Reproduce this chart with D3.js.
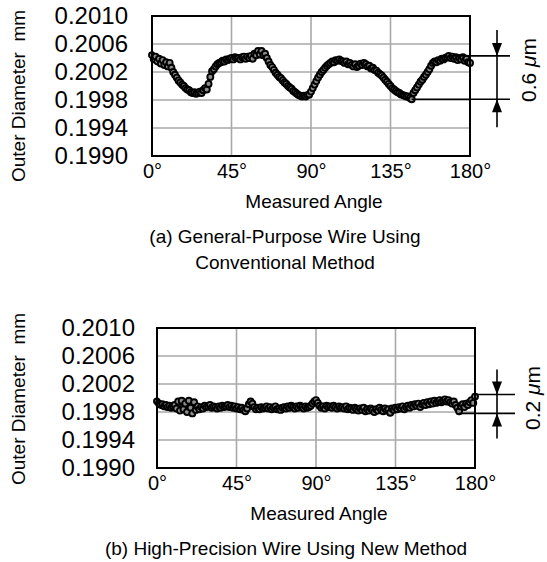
<!DOCTYPE html>
<html>
<head>
<meta charset="utf-8">
<script src="https://cdn.jsdelivr.net/npm/d3@7"></script>
<style>
  body { margin: 0; background: #fff; }
  svg { display: block; font-family: "Liberation Sans", Arial, Helvetica, sans-serif; }
  text { fill: #000; }
</style>
</head>
<body>
<svg id="chart" width="547" height="562"></svg>
<script>
// Measured angles, 0..180 deg in 1 deg steps
var angles = d3.range(0, 181, 1);

// Outer diameter (mm), general-purpose wire, conventional method
var diamConventional = [
  0.20044, 0.20038, 0.20042, 0.20035, 0.20039, 0.20032, 0.20037, 0.20030, 0.20034, 0.20028,
  0.20033, 0.20026, 0.20020, 0.20016, 0.20012, 0.20008, 0.20005, 0.20002, 0.20000, 0.19997,
  0.19995, 0.19994, 0.19991, 0.19990, 0.19991, 0.19989, 0.19990, 0.19992, 0.19990, 0.19994,
  0.19997, 0.19995, 0.20003, 0.20013, 0.20021, 0.20024, 0.20028, 0.20031, 0.20033, 0.20034,
  0.20036, 0.20035, 0.20038, 0.20037, 0.20039, 0.20040, 0.20038, 0.20041, 0.20040, 0.20040,
  0.20038, 0.20041, 0.20042, 0.20039, 0.20042, 0.20040, 0.20043, 0.20039, 0.20046, 0.20044,
  0.20050, 0.20045, 0.20050, 0.20044, 0.20046, 0.20040, 0.20035, 0.20030, 0.20027, 0.20023,
  0.20019, 0.20016, 0.20013, 0.20011, 0.20008, 0.20005, 0.20003, 0.20000, 0.19998, 0.19996,
  0.19993, 0.19991, 0.19989, 0.19987, 0.19986, 0.19985, 0.19986, 0.19985, 0.19987, 0.19988,
  0.19992, 0.19997, 0.20002, 0.20007, 0.20012, 0.20016, 0.20020, 0.20023, 0.20026, 0.20029,
  0.20031, 0.20033, 0.20035, 0.20034, 0.20037, 0.20036, 0.20038, 0.20036, 0.20035, 0.20033,
  0.20035, 0.20031, 0.20033, 0.20030, 0.20028, 0.20031, 0.20027, 0.20029, 0.20032, 0.20030,
  0.20033, 0.20031, 0.20028, 0.20029, 0.20025, 0.20026, 0.20023, 0.20022, 0.20019, 0.20017,
  0.20015, 0.20012, 0.20009, 0.20006, 0.20003, 0.20000, 0.19997, 0.19995, 0.19993, 0.19991,
  0.19990, 0.19988, 0.19987, 0.19986, 0.19985, 0.19985, 0.19983, 0.19981, 0.19990, 0.19994,
  0.19998, 0.20002, 0.20006, 0.20009, 0.20013, 0.20016, 0.20020, 0.20024, 0.20029, 0.20033,
  0.20035, 0.20034, 0.20037, 0.20036, 0.20039, 0.20038, 0.20040, 0.20041, 0.20043, 0.20040,
  0.20042, 0.20039, 0.20041, 0.20037, 0.20040, 0.20038, 0.20041, 0.20036, 0.20039, 0.20034,
  0.20033
];

// Outer diameter (mm), high-precision wire, new method
var diamNew = [
  0.19995, 0.19992, 0.19990, 0.19991, 0.19988, 0.19990, 0.19987, 0.19989, 0.19986, 0.19988,
  0.19990, 0.19985, 0.19995, 0.19982, 0.19996, 0.19984, 0.19992, 0.19980, 0.19996, 0.19986,
  0.19978, 0.19994, 0.19983, 0.19988, 0.19984, 0.19987, 0.19985, 0.19989, 0.19987, 0.19988,
  0.19990, 0.19986, 0.19988, 0.19987, 0.19985, 0.19988, 0.19986, 0.19989, 0.19987, 0.19988,
  0.19990, 0.19987, 0.19989, 0.19986, 0.19988, 0.19985, 0.19987, 0.19984, 0.19986, 0.19983,
  0.19981, 0.19985, 0.19991, 0.19995, 0.19992, 0.19987, 0.19984, 0.19986, 0.19984, 0.19987,
  0.19985, 0.19986, 0.19988, 0.19985, 0.19987, 0.19984, 0.19986, 0.19988, 0.19984, 0.19985,
  0.19983, 0.19986, 0.19987, 0.19985, 0.19988, 0.19986, 0.19989, 0.19987, 0.19985, 0.19988,
  0.19986, 0.19989, 0.19987, 0.19985, 0.19988, 0.19986, 0.19987, 0.19989, 0.19992, 0.19995,
  0.19997, 0.19993, 0.19989, 0.19986, 0.19988, 0.19985, 0.19989, 0.19987, 0.19988, 0.19986,
  0.19989, 0.19987, 0.19985, 0.19988, 0.19986, 0.19987, 0.19985, 0.19988, 0.19984, 0.19986,
  0.19985, 0.19983, 0.19986, 0.19984, 0.19982, 0.19985, 0.19983, 0.19986, 0.19981, 0.19984,
  0.19982, 0.19985, 0.19983, 0.19980, 0.19984, 0.19982, 0.19986, 0.19983, 0.19981, 0.19985,
  0.19982, 0.19984, 0.19979, 0.19985, 0.19983, 0.19986, 0.19984, 0.19987, 0.19985, 0.19988,
  0.19984, 0.19987, 0.19989, 0.19986, 0.19990, 0.19988, 0.19991, 0.19989, 0.19992, 0.19987,
  0.19991, 0.19993, 0.19990, 0.19994, 0.19991, 0.19995, 0.19992, 0.19996, 0.19993, 0.19995,
  0.19997, 0.19994, 0.19996, 0.19998, 0.19995, 0.19997, 0.19994, 0.19992, 0.19995, 0.19990,
  0.19986, 0.19981, 0.19988, 0.19991, 0.19987, 0.19992, 0.19990, 0.19994, 0.19997, 0.19993,
  0.20002
];

// Tick labels
var xTicks = [0, 45, 90, 135, 180];
var yTicks = [0.1990, 0.1994, 0.1998, 0.2002, 0.2006, 0.2010];

// Range annotations: [angle, diameter] of the marked upper and lower points
var rangeConventional = { hi: [168, 0.20043], lo: [147, 0.19981], label: "0.6" };
var rangeNew = { hi: [180, 0.20005], lo: [171, 0.19978], label: "0.2" };

var captionConventional = ["(a) General-Purpose Wire Using", "Conventional Method"];
var captionNew = ["(b) High-Precision Wire Using New Method"];

// Panel layouts
var panels = [
  { data: diamConventional, range: rangeConventional, caption: captionConventional,
    x: 152, y: 16, w: 318, h: 140, labelPad: 24, titleY: 96, dimX: 497, lineEnd: 510,
    dimTop: 26, dimBot: 28, dimLabelX: 536, dimLabelY: 70, capX: 285, capY: 243 },
  { data: diamNew, range: rangeNew, caption: captionNew,
    x: 157, y: 328, w: 318, h: 140, labelPad: 22, titleY: 399, dimX: 497, lineEnd: 515,
    dimTop: 25, dimBot: 25, dimLabelX: 540, dimLabelY: 398, capX: 286, capY: 555 }
];

var svg = d3.select("#chart");

panels.forEach(function(p) { drawPanel(p); });

function drawPanel(p) {
  var x = d3.scaleLinear().domain([0, 180]).range([0, p.w]);
  var y = d3.scaleLinear().domain([0.1990, 0.2010]).range([p.h, 0]);

  var g = svg.append("g").attr("transform", translate(p.x, p.y));

  // Grid
  g.append("g").selectAll("line.vgrid")
    .data(xTicks.slice(1, -1))
    .enter().append("line")
      .attr("x1", function(d) { return x(d); })
      .attr("x2", function(d) { return x(d); })
      .attr("y1", 0).attr("y2", p.h)
      .style("stroke", "#a8a8a8").style("stroke-width", 1.6);

  g.append("g").selectAll("line.hgrid")
    .data(yTicks.slice(1, -1))
    .enter().append("line")
      .attr("y1", function(d) { return y(d); })
      .attr("y2", function(d) { return y(d); })
      .attr("x1", 0).attr("x2", p.w)
      .style("stroke", "#a8a8a8").style("stroke-width", 1.6);

  // Axes (labels only)
  var xAxis = g.append("g")
    .attr("transform", translate(0, p.h))
    .call(d3.axisBottom(x).tickValues(xTicks).tickSize(0).tickPadding(8)
      .tickFormat(function(d) { return d + "°"; }));
  xAxis.select(".domain").remove();
  xAxis.selectAll("text")
    .attr("dy", "0.71em")
    .style("font-size", "20px").style("font-family", "inherit").style("fill", "#000");

  var yAxis = g.append("g")
    .call(d3.axisLeft(y).tickValues(yTicks).tickSize(0).tickPadding(p.labelPad)
      .tickFormat(d3.format(".4f")));
  yAxis.select(".domain").remove();
  yAxis.selectAll("text")
    .style("font-size", "24px").style("font-family", "inherit").style("fill", "#000");

  // Data
  var line = d3.line()
    .x(function(d, i) { return x(angles[i]); })
    .y(function(d) { return y(d); });

  g.append("path")
    .datum(p.data)
    .attr("d", line)
    .style("fill", "none").style("stroke", "#000").style("stroke-width", 1.6);

  g.append("g").selectAll("circle")
    .data(p.data)
    .enter().append("circle")
      .attr("cx", function(d, i) { return x(angles[i]); })
      .attr("cy", function(d) { return y(d); })
      .attr("r", 3)
      .style("fill", "#8c8c8c").style("stroke", "#000").style("stroke-width", 1.9);

  // Frame
  g.append("rect")
    .attr("width", p.w).attr("height", p.h)
    .style("fill", "none").style("stroke", "#000").style("stroke-width", 2);

  // Range annotation
  var r = p.range;
  var yHi = y(r.hi[1]), yLo = y(r.lo[1]);
  var dx = p.dimX - p.x, ex = p.lineEnd - p.x;
  var ann = g.append("g").style("stroke", "#000").style("stroke-width", 1.6);
  ann.append("line").attr("x1", x(r.hi[0])).attr("x2", ex).attr("y1", yHi).attr("y2", yHi);
  ann.append("line").attr("x1", x(r.lo[0])).attr("x2", ex).attr("y1", yLo).attr("y2", yLo);
  ann.append("line").attr("x1", dx).attr("x2", dx)
    .attr("y1", yHi - p.dimTop).attr("y2", yLo + p.dimBot);
  g.append("path")
    .attr("d", "M" + (dx - 5) + "," + (yHi - 13) + "L" + (dx + 5) + "," + (yHi - 13) + "L" + dx + "," + yHi + "Z")
    .style("fill", "#000");
  g.append("path")
    .attr("d", "M" + (dx - 5) + "," + (yLo + 13) + "L" + (dx + 5) + "," + (yLo + 13) + "L" + dx + "," + yLo + "Z")
    .style("fill", "#000");

  var lab = svg.append("text")
    .attr("transform", translate(p.dimLabelX, p.dimLabelY) + " rotate(-90)")
    .style("text-anchor", "middle")
    .style("font-size", "21px");
  lab.append("tspan").text(r.label + " ");
  lab.append("tspan").style("font-style", "italic").text("μ");
  lab.append("tspan").text("m");

  // Axis titles
  svg.append("text")
    .attr("transform", translate(25, p.titleY) + " rotate(-90)")
    .style("text-anchor", "middle")
    .style("font-size", "19px")
    .style("white-space", "pre")
    .text("Outer Diameter  mm");

  svg.append("text")
    .attr("x", p.x + p.w / 2 + 3)
    .attr("y", p.y + p.h + 52)
    .style("text-anchor", "middle")
    .style("font-size", "19px")
    .text("Measured Angle");

  // Caption
  svg.append("g").selectAll("text")
    .data(p.caption)
    .enter().append("text")
      .attr("x", p.capX)
      .attr("y", function(d, i) { return p.capY + 26 * i; })
      .style("text-anchor", "middle")
      .style("font-size", "19px")
      .text(function(d) { return d; });
}

function translate(x, y) {
  return "translate(" + x + "," + y + ")";
}
</script>
</body>
</html>
